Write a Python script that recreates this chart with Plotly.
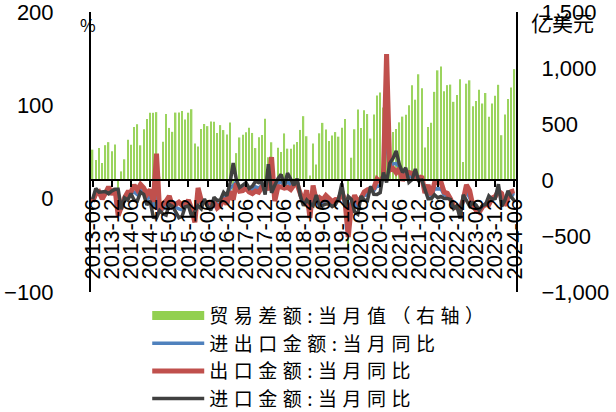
import plotly.graph_objects as go

months = []
for yr in range(2013, 2025):
    for mo in range(1, 13):
        if (yr == 2013 and mo < 6) or (yr == 2024 and mo > 6):
            continue
        months.append(f"{yr}-{mo:02d}")

tick_labels = ["2013-06", "2013-12", "2014-06", "2014-12", "2015-06", "2015-12",
               "2016-06", "2016-12", "2017-06", "2017-12", "2018-06", "2018-12",
               "2019-06", "2019-12", "2020-06", "2020-12", "2021-06", "2021-12",
               "2022-06", "2022-12", "2023-06", "2023-12", "2024-06"]

# 贸易差额:当月值 (亿美元)
balance = [271, 178, 286, 152, 311, 338, 256,
           318, -230, 77, 185, 359, 315, 473, 498, 310, 454, 545, 600,
           600, 606, 30, 341, 590, 465, 430, 602, 603, 616, 541, 601,
           632, 326, 298, 455, 500, 481, 523, 521, 420, 490, 446, 407,
           514, -91, 240, 380, 405, 427, 467, 420, 285, 381, 402, 547,
           203, 337, -50, 287, 249, 416, 280, 279, 317, 340, 447, 570,
           391, 41, 326, 138, 417, 510, 450, 348, 397, 428, 387, 467,
           545, -607, 199, 453, 629, 464, 623, 589, 370, 584, 754, 781,
           647, 371, 138, 428, 455, 515, 566, 583, 667, 845, 717, 944,
           820, 290, 473, 511, 787, 979, 1013, 793, 847, 852, 698, 760,
           900, 160, 860, 890, 658, 706, 806, 683, 777, 565, 683, 753,
           850, 400, 585, 723, 826, 990]

# 出口金额:当月同比 (%)
export_yoy = [-3.1, 5.1, 7.2, -0.3, 5.6, 12.7, 4.3,
              10.6, -18.1, -6.6, 0.9, 7.0, 7.2, 14.5, 9.4, 15.3, 11.6, 4.7, 9.7,
              -3.3, 48.3, -15.0, -6.4, -2.5, 2.8, -8.3, -5.5, -3.7, -6.9, -6.8, -1.4,
              -11.2, -25.4, 11.5, -1.8, -4.1, -4.8, -4.4, -2.8, -10.0, -7.3, 0.1, -6.1,
              7.9, -1.3, 16.4, 8.0, 8.7, 11.3, 7.2, 5.5, 8.1, 6.9, 12.3, 10.9,
              11.1, 44.5, -2.7, 12.9, 12.6, 11.3, 12.2, 9.8, 14.5, 15.6, 5.4, -4.4,
              9.1, -20.7, 14.2, -2.7, 1.1, -1.3, 3.3, -1.0, -3.2, -0.9, -1.1, 7.6,
              -3.0, -41.0, -6.6, 3.5, -3.3, 0.5, 7.2, 9.5, 9.9, 11.4, 21.1, 18.1,
              24.0, 154.9, 30.6, 32.3, 27.9, 32.2, 19.3, 25.6, 28.1, 27.1, 22.0, 20.9,
              24.0, 6.0, 14.7, 3.9, 16.9, 17.9, 18.0, 7.1, 5.7, -0.3, -8.7, -9.9,
              -10.5, -1.3, 14.8, 8.5, -7.5, -12.4, -14.5, -8.8, -6.2, -6.4, 0.5, 2.3,
              8.1, 5.6, -7.5, 1.5, 7.6, 8.6]

# 进口金额:当月同比 (%)
import_yoy = [-0.7, 10.9, 7.0, 7.4, 7.6, 5.3, 8.3,
              10.0, 10.1, -11.3, 0.8, -1.6, 5.5, -1.6, -2.4, 7.0, 4.6, -6.7, -2.4,
              -19.9, -20.5, -12.7, -16.2, -17.6, -6.1, -8.1, -13.8, -20.4, -18.8, -8.7, -7.6,
              -18.8, -13.8, -7.6, -10.9, -0.4, -8.4, -12.5, 1.5, -1.9, -1.4, 6.7, 3.1,
              16.7, 38.1, 20.3, 11.9, 14.8, 17.2, 11.0, 13.3, 18.7, 17.2, 17.7, 4.5,
              36.9, 6.3, 14.4, 21.5, 26.0, 14.1, 27.3, 20.0, 14.3, 21.4, 3.0, -7.6,
              -1.5, -5.2, -7.6, 4.0, -8.5, -7.3, -5.6, -5.6, -8.5, -6.4, 0.3, 16.3,
              -9.0, 2.4, -0.9, -14.2, -16.7, 2.7, -1.4, -2.1, 13.2, 4.7, 4.5, 6.5,
              28.0, 17.3, 38.1, 43.1, 51.1, 36.7, 28.1, 33.1, 17.6, 20.6, 31.7, 19.5,
              20.0, 10.0, -0.1, 0.0, 4.1, 1.0, 2.3, 0.3, 0.3, -0.7, -10.6, -7.5,
              -21.3, 4.2, -1.4, -7.9, -4.5, -6.8, -12.4, -7.3, -6.2, 3.0, -0.6, 0.2,
              15.5, -8.2, -1.9, 8.4, 1.8, -2.3]

# 进出口金额:当月同比 (%)
total_yoy = [-2.0, 7.8, 7.1, 3.2, 6.4, 9.3, 6.2,
             10.3, -6.0, -9.0, 0.8, 3.0, 6.3, 7.1, 4.2, 11.4, 8.6, -0.5, 4.2,
             -10.8, 10.9, -13.8, -10.9, -9.7, -1.2, -8.2, -9.1, -11.0, -11.9, -7.6, -4.1,
             -14.5, -21.0, 2.3, -5.7, -2.5, -6.3, -7.8, -0.9, -6.7, -4.8, 3.0, -2.2,
             11.2, 13.9, 18.1, 9.6, 11.3, 13.9, 8.8, 8.9, 12.7, 11.2, 14.6, 8.1,
             22.2, 25.3, 4.8, 16.5, 18.5, 12.5, 19.0, 14.3, 14.4, 18.2, 4.3, -5.8,
             4.0, -14.0, 3.2, 0.3, -3.2, -4.0, -0.8, -3.0, -5.6, -3.3, -0.4, 11.3,
             -6.0, -20.0, -4.0, -4.9, -9.3, 1.5, 3.4, 4.1, 11.3, 8.5, 13.8, 13.0,
             26.0, 72.0, 33.7, 37.3, 37.6, 34.2, 23.1, 28.8, 23.4, 24.3, 26.1, 20.4,
             22.0, 8.0, 7.9, 2.1, 11.1, 10.3, 11.0, 4.1, 3.4, -0.4, -9.5, -8.9,
             -15.0, 1.0, 7.4, 1.1, -6.2, -10.0, -13.7, -8.3, -6.2, -2.1, 0.0, 1.4,
             11.0, -1.0, -5.0, 4.4, 5.2, 3.9]

GREEN = "#92D050"
BLUE = "#4F81BD"
RED = "#C0504D"
DARK = "#404040"
TICK_FONT = dict(family="Liberation Sans, Arial, sans-serif", size=22, color="#000000")
CJK = "Noto Sans CJK SC, sans-serif"


def spaced(s):
    return '<span style="letter-spacing:5.5px">' + s + '</span>'


fig = go.Figure()

fig.add_trace(go.Bar(x=months, y=balance, marker=dict(color="#9BD45E", line=dict(width=0)),
                     yaxis="y", showlegend=False, name="贸易差额:当月值（右轴）"))
# legend proxy for the bar series
fig.add_trace(go.Scatter(x=[None], y=[None], mode="lines", yaxis="y",
                         line=dict(color=GREEN, width=9), name=spaced("贸易差额:当月值（右轴）")))
fig.add_trace(go.Scatter(x=months, y=total_yoy, mode="lines", yaxis="y2",
                         line=dict(color=BLUE, width=3.5), name=spaced("进出口金额:当月同比")))
fig.add_trace(go.Scatter(x=months, y=export_yoy, mode="lines", yaxis="y2",
                         line=dict(color=RED, width=5), name=spaced("出口金额:当月同比")))
fig.add_trace(go.Scatter(x=months, y=import_yoy, mode="lines", yaxis="y2",
                         line=dict(color=DARK, width=3.5), name=spaced("进口金额:当月同比")))

fig.update_layout(
    width=616, height=412,
    margin=dict(l=91, r=100, t=12, b=120, autoexpand=False),
    paper_bgcolor="white", plot_bgcolor="white",
    bargap=0.55,
    xaxis=dict(type="category", range=[-0.5, len(months) - 0.5],
               anchor="free", position=0.4, automargin=False,
               tickmode="array", tickvals=tick_labels, ticktext=tick_labels,
               tickangle=-90, tickfont=TICK_FONT, ticklabelstandoff=3,
               ticks="outside", ticklen=6, tickwidth=1.5, tickcolor="#000000",
               showline=True, linecolor="#000000", linewidth=2,
               showgrid=False, zeroline=False),
    yaxis=dict(side="right", range=[-1000, 1500], tickmode="array",
               tickvals=[-1000, -500, 0, 500, 1000, 1500], tickformat=",d",
               tickfont=TICK_FONT, ticks="", ticklabelstandoff=19, automargin=False,
               ticklabeloverflow="allow",
               showline=True, linecolor="#000000", linewidth=2,
               showgrid=False, zeroline=False),
    yaxis2=dict(side="left", overlaying="y", range=[-100, 200], tickmode="array",
                tickvals=[-100, 0, 100, 200], tickfont=TICK_FONT, ticks="",
                ticklabelstandoff=31, automargin=False,
                ticklabeloverflow="allow",
                showline=True, linecolor="#000000", linewidth=2,
                showgrid=False, zeroline=False),
    legend=dict(xref="container", yref="container",
                x=0.239, y=0.28, xanchor="left", yanchor="top",
                orientation="v", itemwidth=52, tracegroupgap=0,
                font=dict(family=CJK, size=19, color="#000000"),
                bgcolor="rgba(0,0,0,0)"),
    annotations=[
        dict(text="%", x=-0.007, y=0.955, xref="paper", yref="paper",
             xanchor="center", yanchor="middle",
             showarrow=False, font=dict(family=CJK, size=17, color="#000000")),
        dict(text="亿美元", x=1.11, y=0.965, xref="paper", yref="paper",
             xanchor="center", yanchor="middle",
             showarrow=False, font=dict(family=CJK, size=21, color="#000000")),
    ],
)

fig.write_html("out.html", config={"displayModeBar": False},
               post_script="document.body.style.margin='0';document.body.style.overflow='hidden';")
